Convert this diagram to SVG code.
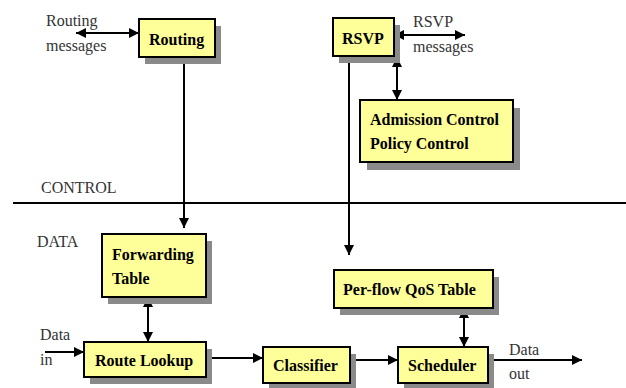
<svg xmlns="http://www.w3.org/2000/svg" width="626" height="388" viewBox="0 0 626 388">
<defs>
<marker id="ah" viewBox="0 0 10 10" refX="10" refY="5" markerWidth="10" markerHeight="10" markerUnits="userSpaceOnUse" orient="auto-start-reverse">
<path d="M0,0 L10,5 L0,10 z" fill="#000"/>
</marker>
<style>
.box{fill:#ffff99;stroke:#000;stroke-width:2}
.sh{fill:#8a8a8a}
.bt{font-family:"Liberation Serif",serif;font-weight:bold;font-size:16px;fill:#000}
.lt{font-family:"Liberation Serif",serif;font-size:16px;fill:#333}
.ln{stroke:#000;stroke-width:2;fill:none}
.a1{marker-end:url(#ah)}
.a2{marker-start:url(#ah);marker-end:url(#ah)}
</style>
</defs>
<rect width="626" height="388" fill="#fff"/>
<g id="labels">
<text class="lt" x="46" y="26">Routing</text>
<text class="lt" x="46" y="51">messages</text>
<text class="lt" x="413" y="27">RSVP</text>
<text class="lt" x="413" y="52">messages</text>
<text class="lt" x="41" y="193">CONTROL</text>
<text class="lt" x="37" y="247">DATA</text>
<text class="lt" x="40" y="340">Data</text>
<text class="lt" x="40" y="365">in</text>
<text class="lt" x="509" y="355">Data</text>
<text class="lt" x="509" y="379">out</text>
</g>
<g id="connectors">
<line class="ln" x1="13" y1="203" x2="626" y2="203"/>
<line class="ln a2" x1="76" y1="33" x2="139" y2="33"/>
<line class="ln a1" x1="184" y1="57" x2="184" y2="228"/>
<line class="ln a2" x1="394" y1="35" x2="465" y2="35"/>
<line class="ln a2" x1="397" y1="57" x2="397" y2="100"/>
<line class="ln a1" x1="349" y1="56" x2="349" y2="255"/>
<line class="ln a2" x1="148" y1="297" x2="148" y2="342"/>
<line class="ln a1" x1="45" y1="352" x2="84" y2="352"/>
<line class="ln a1" x1="207" y1="358" x2="263" y2="358"/>
<line class="ln a1" x1="350" y1="360" x2="398" y2="360"/>
<line class="ln a1" x1="489" y1="360" x2="582" y2="360"/>
<line class="ln a2" x1="464" y1="308" x2="464" y2="347"/>
</g>
<g id="routing">
<rect class="sh" x="145" y="26" width="76" height="38"/>
<rect class="box" x="139" y="19" width="76" height="38"/>
<text class="bt" x="149" y="45">Routing</text>
</g>
<g id="rsvp">
<rect class="sh" x="339" y="25" width="61" height="38"/>
<rect class="box" x="333" y="18" width="61" height="38"/>
<text class="bt" x="342" y="44">RSVP</text>
</g>
<g id="admission">
<rect class="sh" x="367" y="108" width="153" height="62"/>
<rect class="box" x="360" y="100" width="153" height="62"/>
<text class="bt" x="370" y="125">Admission Control</text>
<text class="bt" x="370" y="149">Policy Control</text>
</g>
<g id="forwarding">
<rect class="sh" x="108" y="241" width="104" height="63"/>
<rect class="box" x="102" y="234" width="104" height="63"/>
<text class="bt" x="112" y="260">Forwarding</text>
<text class="bt" x="112" y="284">Table</text>
</g>
<g id="qos">
<rect class="sh" x="340" y="277" width="159" height="38"/>
<rect class="box" x="334" y="270" width="159" height="38"/>
<text class="bt" x="343" y="295">Per-flow QoS Table</text>
</g>
<g id="routelookup">
<rect class="sh" x="90" y="349" width="122" height="35"/>
<rect class="box" x="84" y="342" width="122" height="35"/>
<text class="bt" x="95" y="366">Route Lookup</text>
</g>
<g id="classifier">
<rect class="sh" x="269" y="354" width="87" height="36"/>
<rect class="box" x="263" y="347" width="87" height="36"/>
<text class="bt" x="273" y="371">Classifier</text>
</g>
<g id="scheduler">
<rect class="sh" x="404" y="354" width="90" height="36"/>
<rect class="box" x="398" y="347" width="90" height="36"/>
<text class="bt" x="408" y="371">Scheduler</text>
</g>
</svg>
